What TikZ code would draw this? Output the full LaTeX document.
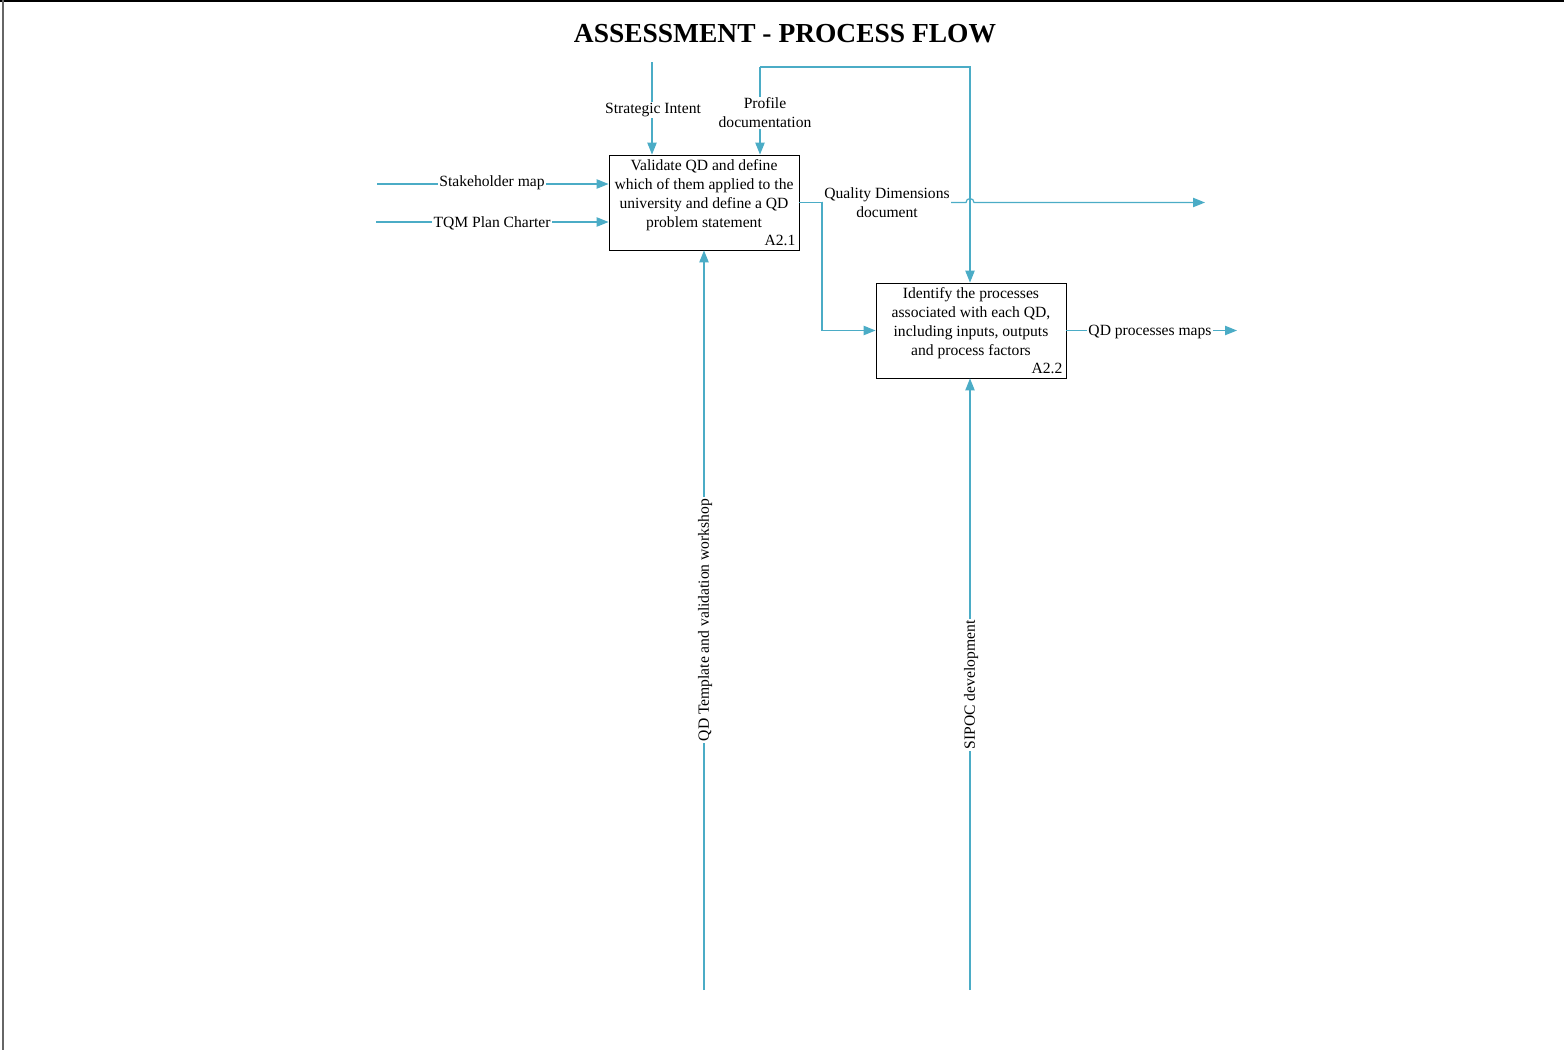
\documentclass[tikz,border=0pt]{standalone}
\usepackage{fontspec}
\setmainfont{Liberation Serif}
\usetikzlibrary{arrows.meta}
\definecolor{flowblue}{HTML}{4BACC6}
\begin{document}
\begin{tikzpicture}[x=0.75pt,y=-0.75pt,
  txt/.style={font=\fontsize{11.7}{14.3}\selectfont, inner sep=1pt, align=center},
  lbl/.style={txt, fill=white},
  proc/.style={draw=black, line width=0.6pt, minimum width=142.5pt, minimum height=71.25pt, inner sep=0pt},
  flow/.style={draw=flowblue, line width=0.9pt},
  arr/.style={flow, -{Triangle[length=9pt,width=7pt]}}]
\useasboundingbox (0,0) rectangle (1564,1050);
% page frame
\draw[line width=1.5pt] (0,1) -- (1564,1);
\draw[line width=1.5pt, black!60] (3,0) -- (3,1050);

% title
\node[font=\fontsize{20.6}{24}\selectfont\bfseries] (title) at (785,34) {ASSESSMENT - PROCESS FLOW};

% activity boxes
\node[proc] (a1) at (704,202.5) {};
\node[txt, anchor=north] (a1t) at (704,158) {Validate QD and define\\which of them applied to the\\university and define a QD\\problem statement};
\node[txt, anchor=south east] (a1n) at (797,247) {A2.1};

\node[proc] (a2) at (971,330.5) {};
\node[txt, anchor=north] (a2t) at (971,286) {Identify the processes\\associated with each QD,\\including inputs, outputs\\and process factors};
\node[txt, anchor=south east] (a2n) at (1064,375) {A2.2};

% free ends of the connectors
\coordinate (siTop) at (652,62);
\coordinate (pdTop) at (760,67);
\coordinate (pdCorner) at (970,67);
\coordinate (shL) at (377,184);
\coordinate (tqL) at (376,222);
\coordinate (qdSplit) at (822,202.5);
\coordinate (hopL) at (966,202.5);
\coordinate (qdEnd) at (1205,202.5);
\coordinate (mapEnd) at (1237,330.5);
\coordinate (qtBot) at (704,990);
\coordinate (spBot) at (970,990);

% controls
\draw[arr] (siTop) -- (siTop |- a1.north);
\draw[arr] (pdTop) -- (pdTop |- a1.north);
\draw[arr] (pdTop) -- (pdCorner) -- (pdCorner |- a2.north);
\node[lbl] (siL) at (653,110) {Strategic Intent};
\node[lbl] (pdL) at (765,113) {Profile\\documentation};

% inputs
\draw[arr] (shL) -- (shL -| a1.west);
\draw[arr] (tqL) -- (tqL -| a1.west);
\node[lbl] (shT) at (492,183) {Stakeholder map};
\node[lbl] (tqT) at (492,223) {TQM Plan Charter};

% outputs
\draw[flow] (a1.east) -- (qdSplit);
\draw[arr] (qdSplit) |- (a2.west);
\draw[arr] (qdSplit) -- (hopL) arc (180:360:4) -- (qdEnd);
\node[lbl] (qdT) at (887,203) {Quality Dimensions\\document};

\draw[arr] (a2.east) -- (mapEnd);
\node[lbl] (mapT) at (1150,332) {QD processes maps};

% mechanisms
\draw[arr] (qtBot) -- (a1.south);
\node[lbl, rotate=90] (qtT) at (705,620) {QD Template and validation workshop};
\draw[arr] (spBot) -- (spBot |- a2.south);
\node[lbl, rotate=90] (spT) at (971,685) {SIPOC development};
\end{tikzpicture}
\end{document}
